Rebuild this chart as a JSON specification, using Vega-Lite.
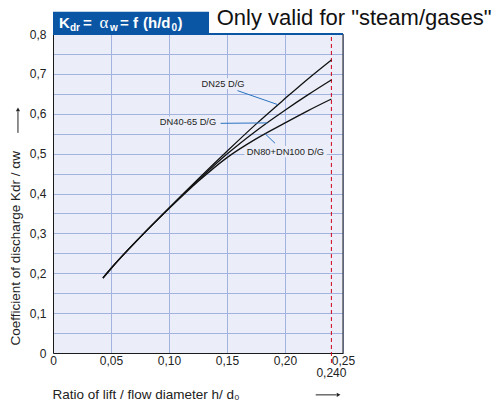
{
  "$schema": "https://vega.github.io/schema/vega-lite/v6.json",
  "width": 290,
  "height": 319,
  "autosize": {"type": "none"},
  "padding": {"left": 53, "top": 34, "right": 152, "bottom": 52},
  "background": "white",
  "config": {
    "view": {"stroke": null, "fill": "#ebeef8"},
    "font": "Liberation Sans"
  },
  "datasets": {
    "curves": [
      {"s": "DN25", "x": 0.043, "y": 0.188}, {"s": "DN25", "x": 0.05, "y": 0.212}, {"s": "DN25", "x": 0.075, "y": 0.29}, {"s": "DN25", "x": 0.1, "y": 0.364}, {"s": "DN25", "x": 0.125, "y": 0.436}, {"s": "DN25", "x": 0.15, "y": 0.506}, {"s": "DN25", "x": 0.175, "y": 0.574}, {"s": "DN25", "x": 0.2, "y": 0.638}, {"s": "DN25", "x": 0.22, "y": 0.688}, {"s": "DN25", "x": 0.24, "y": 0.735},
      {"s": "DN40", "x": 0.043, "y": 0.188}, {"s": "DN40", "x": 0.05, "y": 0.212}, {"s": "DN40", "x": 0.075, "y": 0.29}, {"s": "DN40", "x": 0.1, "y": 0.363}, {"s": "DN40", "x": 0.125, "y": 0.433}, {"s": "DN40", "x": 0.15, "y": 0.499}, {"s": "DN40", "x": 0.175, "y": 0.557}, {"s": "DN40", "x": 0.2, "y": 0.609}, {"s": "DN40", "x": 0.22, "y": 0.648}, {"s": "DN40", "x": 0.24, "y": 0.685},
      {"s": "DN80", "x": 0.043, "y": 0.188}, {"s": "DN80", "x": 0.05, "y": 0.212}, {"s": "DN80", "x": 0.075, "y": 0.29}, {"s": "DN80", "x": 0.1, "y": 0.362}, {"s": "DN80", "x": 0.125, "y": 0.43}, {"s": "DN80", "x": 0.15, "y": 0.49}, {"s": "DN80", "x": 0.175, "y": 0.537}, {"s": "DN80", "x": 0.2, "y": 0.577}, {"s": "DN80", "x": 0.22, "y": 0.608}, {"s": "DN80", "x": 0.24, "y": 0.637}
    ],
    "labelbg": [
      {"x": 0.128, "x2": 0.166, "y": 0.662, "y2": 0.689},
      {"x": 0.089, "x2": 0.143, "y": 0.565, "y2": 0.593},
      {"x": 0.165, "x2": 0.236, "y": 0.491, "y2": 0.519}
    ],
    "leaders": [
      {"x": 0.159, "y": 0.658, "x2": 0.1937, "y2": 0.623},
      {"x": 0.1445, "y": 0.576, "x2": 0.1848, "y2": 0.577},
      {"x": 0.1914, "y": 0.526, "x2": 0.1828, "y2": 0.550}
    ],
    "labels": [
      {"t": "DN25 D/G", "x": 0.1466, "y": 0.675},
      {"t": "DN40-65 D/G", "x": 0.1164, "y": 0.5786},
      {"t": "DN80+DN100 D/G", "x": 0.2003, "y": 0.505}
    ],
    "box": [{"x": 0, "x2": 0.1345, "y": 0.8, "y2": 0.856}],
    "topline": [{"x": 0, "x2": 0.25, "y": 0.8}],
    "rightline": [{"x": 0.25, "y": 0, "y2": 0.8}],
    "limit": [{"x": 0.24, "y": -0.025, "y2": 0.8}],
    "limitlabel": [{"t": "0,240", "x": 0.24, "y": -0.0505}],
    "titleMain": [
      {"t": "K", "x": 0.00517, "y": 0.8158},
      {"t": "=", "x": 0.02586, "y": 0.8158},
      {"t": "= f", "x": 0.0578, "y": 0.8158},
      {"t": "(h/d", "x": 0.07759, "y": 0.8158},
      {"t": ")", "x": 0.10733, "y": 0.8158}
    ],
    "titleSub": [
      {"t": "dr", "x": 0.01466, "y": 0.8075},
      {"t": "w", "x": 0.04914, "y": 0.8075},
      {"t": "0", "x": 0.10216, "y": 0.8075}
    ],
    "titleAlpha": [{"t": "α", "x": 0.04009, "y": 0.8158}],
    "note": [{"t": "Only valid for \"steam/gases\"", "x": 0.1411, "y": 0.8226}],
    "arrowLines": [
      {"x": -0.0302, "x2": -0.0302, "y": 0.552, "y2": 0.606},
      {"x": 0.2265, "x2": 0.2445, "y": -0.105, "y2": -0.105}
    ],
    "arrowUp": [{"x": -0.0302, "y": 0.611}],
    "arrowRight": [{"x": 0.2462, "y": -0.105}]
  },
  "encoding": {
    "x": {
      "field": "x", "type": "quantitative",
      "scale": {"domain": [0, 0.25], "nice": false, "zero": false},
      "axis": {
        "values": [0, 0.05, 0.1, 0.15, 0.2, 0.25],
        "labelExpr": "datum.value == 0 ? '0' : replace(format(datum.value, '.2f'), '.', ',')",
        "labelFontSize": 12, "labelColor": "#222", "labelPadding": 2,
        "labelFlush": false, "labelOverlap": false,
        "ticks": false, "domainColor": "#1a1a1a",
        "grid": true, "gridColor": "#a3b3e0", "gridOpacity": 1,
        "title": "Ratio of lift / flow diameter h/ d₀",
        "titleFontSize": 13.5, "titleFontWeight": "normal", "titleColor": "#222",
        "titleX": -1, "titleY": 45, "titleAlign": "left", "titleBaseline": "alphabetic", "titleAnchor": "start"
      }
    },
    "y": {
      "field": "y", "type": "quantitative",
      "scale": {"domain": [0, 0.8], "nice": false, "zero": false},
      "axis": {
        "values": [0, 0.05, 0.1, 0.15, 0.2, 0.25, 0.3, 0.35, 0.4, 0.45, 0.5, 0.55, 0.6, 0.65, 0.7, 0.75, 0.8],
        "labelExpr": "round(datum.value * 100) % 10 == 0 ? (datum.value == 0 ? '0' : replace(format(datum.value, '.1f'), '.', ',')) : ''",
        "labelFontSize": 12, "labelColor": "#222", "labelPadding": 7,
        "labelFlush": false, "labelOverlap": false,
        "ticks": false, "domainColor": "#1a1a1a",
        "grid": true, "gridColor": "#a3b3e0", "gridOpacity": 1,
        "title": "Coefficient of discharge Kdr / αw",
        "titleFontSize": 13.5, "titleFontWeight": "normal", "titleColor": "#222",
        "titleAngle": -90, "titleX": -33.5, "titleY": 311, "titleAlign": "left", "titleBaseline": "alphabetic"
      }
    }
  },
  "layer": [
    {"data": {"name": "labelbg"}, "mark": {"type": "rect", "fill": "#ebeef8"}, "encoding": {"x2": {"field": "x2"}, "y2": {"field": "y2"}}},
    {"data": {"name": "box"}, "mark": {"type": "rect", "fill": "#0b56a4"}, "encoding": {"x2": {"field": "x2"}, "y2": {"field": "y2"}}},
    {"data": {"name": "rightline"}, "mark": {"type": "rule", "stroke": "#1a1a1a", "strokeWidth": 1}, "encoding": {"y2": {"field": "y2"}}},
    {"data": {"name": "topline"}, "mark": {"type": "rule", "stroke": "#0b56a4", "strokeWidth": 2}, "encoding": {"x2": {"field": "x2"}}},
    {"data": {"name": "limit"}, "mark": {"type": "rule", "stroke": "#d0021b", "strokeWidth": 1, "strokeDash": [4, 3]}, "encoding": {"y2": {"field": "y2"}}},
    {"data": {"name": "curves"}, "mark": {"type": "line", "stroke": "#111", "strokeWidth": 1.3, "interpolate": "monotone"}, "encoding": {"detail": {"field": "s", "type": "nominal"}}},
    {"data": {"name": "leaders"}, "mark": {"type": "rule", "stroke": "#2a72c2", "strokeWidth": 1}, "encoding": {"x2": {"field": "x2"}, "y2": {"field": "y2"}}},
    {"data": {"name": "labels"}, "mark": {"type": "text", "fontSize": 9.3, "color": "#222", "align": "center", "baseline": "middle"}, "encoding": {"text": {"field": "t"}}},
    {"data": {"name": "limitlabel"}, "mark": {"type": "text", "fontSize": 12, "color": "#222", "align": "center", "baseline": "middle"}, "encoding": {"text": {"field": "t"}}},
    {"data": {"name": "titleMain"}, "mark": {"type": "text", "fontSize": 15, "fontWeight": "bold", "color": "white", "align": "left", "baseline": "alphabetic"}, "encoding": {"text": {"field": "t"}}},
    {"data": {"name": "titleSub"}, "mark": {"type": "text", "fontSize": 10, "fontWeight": "bold", "color": "white", "align": "left", "baseline": "alphabetic"}, "encoding": {"text": {"field": "t"}}},
    {"data": {"name": "titleAlpha"}, "mark": {"type": "text", "fontSize": 17, "font": "Liberation Serif", "color": "white", "align": "left", "baseline": "alphabetic"}, "encoding": {"text": {"field": "t"}}},
    {"data": {"name": "note"}, "mark": {"type": "text", "fontSize": 22, "color": "#111", "align": "left", "baseline": "alphabetic"}, "encoding": {"text": {"field": "t"}}},
    {"data": {"name": "arrowLines"}, "mark": {"type": "rule", "stroke": "#222", "strokeWidth": 1}, "encoding": {"x2": {"field": "x2"}, "y2": {"field": "y2"}}},
    {"data": {"name": "arrowUp"}, "mark": {"type": "point", "shape": "triangle-up", "filled": true, "color": "#222", "size": 18, "opacity": 1}},
    {"data": {"name": "arrowRight"}, "mark": {"type": "point", "shape": "triangle-right", "filled": true, "color": "#222", "size": 18, "opacity": 1}}
  ]
}
